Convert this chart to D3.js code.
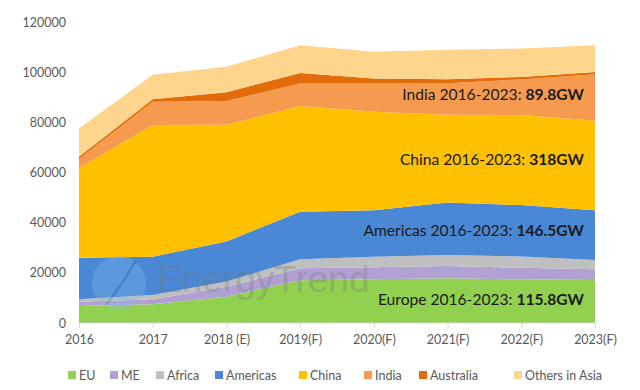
<!DOCTYPE html>
<html><head><meta charset="utf-8">
<script src="https://cdn.jsdelivr.net/npm/d3@7"></script>
<style>body{margin:0;background:#fff}svg{display:block}</style>
</head><body><svg id="c" width="640" height="390"></svg>
<script>
const categories = ["2016","2017","2018 (E)","2019(F)","2020(F)","2021(F)","2022(F)","2023(F)"];
const seriesNames = ["EU","ME","Africa","Americas","China","India","Australia","Others in Asia"];
const EU        = [6800, 7450, 10500, 17000, 17400, 17800, 17400, 17100];
const ME        = [1700, 2000, 4000, 4800, 4800, 4900, 4600, 4300];
const Africa    = [950, 1700, 2000, 3600, 4200, 4400, 4500, 3700];
const Americas  = [16600, 15300, 16000, 19000, 18600, 20900, 20500, 19900];
const China     = [35600, 52500, 46500, 42100, 39200, 35000, 35900, 35600];
const India     = [3700, 9300, 9500, 9000, 11300, 12600, 14200, 18600];
const Australia = [900, 1000, 3500, 4200, 2000, 1600, 1000, 900];
const Others    = [11300, 9700, 10200, 11000, 10600, 11700, 11300, 10600];
const yTicks = [0, 20000, 40000, 60000, 80000, 100000, 120000];
const annotations = [
  {label:"India 2016-2023: ", value:"89.8GW", y:89000},
  {label:"China 2016-2023: ", value:"318GW", y:63000},
  {label:"Americas 2016-2023: ", value:"146.5GW", y:34800},
  {label:"Europe 2016-2023: ", value:"115.8GW", y:7200}
];
const colors = ["#92d050","#b1a0d2","#bfbfbf","#4a88d6","#ffc000","#f59a4e","#e26b0a","#fdd58c"];

const allSeries = [EU, ME, Africa, Americas, China, India, Australia, Others];
const table = categories.map((c,i)=>{ const o={cat:c}; seriesNames.forEach((s,j)=>o[s]=allSeries[j][i]); return o; });

const svg = d3.select("#c");
const x = d3.scalePoint().domain(categories).range([79, 595]);
const y = d3.scaleLinear().domain([0,120000]).range([323, 22]);

const stack = d3.stack().keys(seriesNames)(table);
const area = d3.area().x(d=>x(d.data.cat)).y0(d=>y(d[0])).y1(d=>y(d[1]));

svg.append("g").selectAll("path").data(stack).join("path")
  .attr("d", area).attr("fill",(d,i)=>colors[i]);

// watermark
const wm = svg.append("g").attr("opacity",0.3);
wm.append("circle").attr("cx",119).attr("cy",283).attr("r",27).attr("fill","#86bde8");
wm.append("path").attr("d","M106 305 Q124 282 136 260").attr("stroke","#3d6e9c").attr("stroke-width",2.5).attr("fill","none");
wm.append("text").attr("x",157).attr("y",292).attr("font-family","Liberation Sans, Arial, sans-serif")
  .attr("font-size",37).attr("fill","#777").text("EnergyTrend");

// y axis labels
svg.append("g").selectAll("text").data(yTicks).join("text")
  .attr("x",66).attr("y",d=>y(d)+4.5).attr("text-anchor","end")
  .attr("font-family","Lato, sans-serif").attr("font-size",12.5).attr("fill","#595959")
  .text(d=>d);

// x axis
const xa = svg.append("g").attr("transform","translate(0,323)")
  .call(d3.axisBottom(x).tickSize(5).tickPadding(7));
xa.select(".domain").attr("stroke","#d9d9d9").attr("d","M79,0H595");
xa.selectAll(".tick line").attr("stroke","#d9d9d9");
xa.selectAll(".tick text").attr("font-family","Lato, sans-serif").attr("font-size",12.5).attr("fill","#595959");

// annotations
const an = svg.append("g").attr("font-family","Lato, sans-serif").attr("font-size",15.6).attr("fill","#1a1a1a");
annotations.forEach(a=>{
  const t = an.append("text").attr("x",584).attr("y",y(a.y)).attr("text-anchor","end");
  t.append("tspan").text(a.label);
  t.append("tspan").attr("font-weight","bold").text(a.value);
});

// legend
const legX = [68,110,156,215,299,364,419,514];
const lg = svg.append("g").attr("font-family","Lato, sans-serif").attr("font-size",12.5).attr("fill","#595959");
seriesNames.forEach((s,i)=>{
  lg.append("rect").attr("x",legX[i]).attr("y",371).attr("width",8).attr("height",8).attr("fill",colors[i]);
  lg.append("text").attr("x",legX[i]+11).attr("y",379.5).text(s);
});
</script></body></html>
